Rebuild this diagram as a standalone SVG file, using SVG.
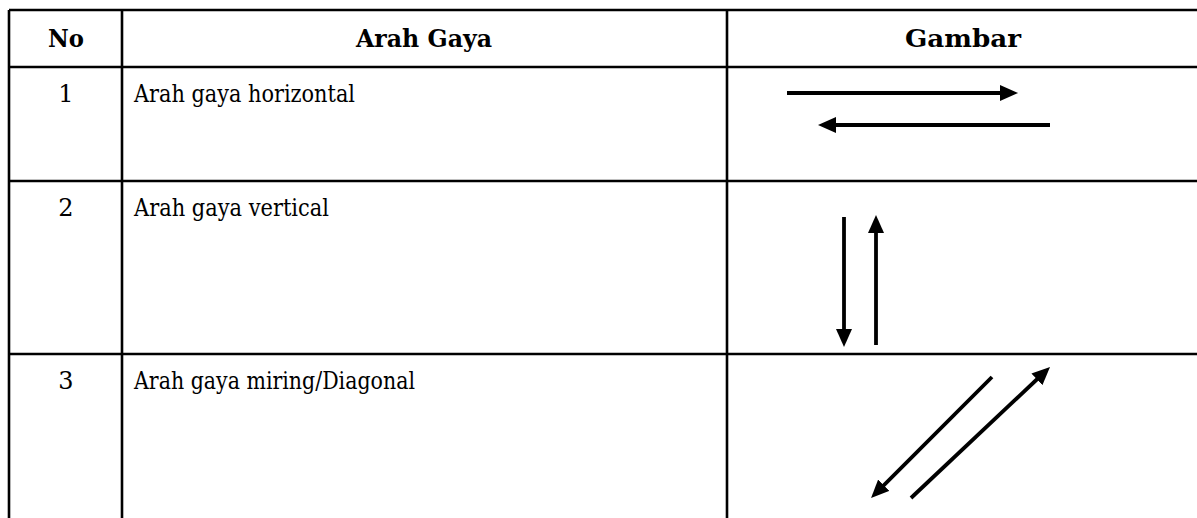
<svg xmlns="http://www.w3.org/2000/svg" width="1197" height="518" viewBox="0 0 1197 518">
<style>
.grid{stroke:#000;stroke-width:2.6;fill:none}
.h{font-family:"DejaVu Serif","Liberation Serif",serif;font-weight:bold;font-size:24px;fill:#000;text-anchor:middle}
.t{font-family:"DejaVu Serif","Liberation Serif",serif;font-size:24px;fill:#000}
.n{text-anchor:middle}
.arr{stroke:#000;stroke-width:3.8;fill:none;marker-end:url(#ah)}
</style>
<defs>
<marker id="ah" markerUnits="userSpaceOnUse" markerWidth="18" markerHeight="16" refX="10" refY="8" orient="auto">
<path d="M0,0 L18,8 L0,16 z" fill="#000"/>
</marker>
</defs>
<rect width="1197" height="518" fill="#fff"/>
<g id="table">
<path class="grid" d="M9,10 V518 M122,10 V518 M727,10 V518 M9,10 H1197 M9,67 H1197 M9,181 H1197 M9,354 H1197"/>
</g>
<g id="header">
<text class="h" x="66" y="47" textLength="36" lengthAdjust="spacingAndGlyphs">No</text>
<text class="h" x="424" y="47" textLength="136" lengthAdjust="spacingAndGlyphs">Arah Gaya</text>
<text class="h" x="963" y="47" textLength="116" lengthAdjust="spacingAndGlyphs">Gambar</text>
</g>
<g id="row1">
<text class="t n" x="66" y="102">1</text>
<text class="t" x="134" y="102" textLength="221" lengthAdjust="spacingAndGlyphs">Arah gaya horizontal</text>
</g>
<g id="row2">
<text class="t n" x="66" y="216">2</text>
<text class="t" x="134" y="216" textLength="195" lengthAdjust="spacingAndGlyphs">Arah gaya vertical</text>
</g>
<g id="row3">
<text class="t n" x="66" y="389">3</text>
<text class="t" x="134" y="389" textLength="281" lengthAdjust="spacingAndGlyphs">Arah gaya miring/Diagonal</text>
</g>
<g id="connectors">
<line class="arr" x1="787" y1="93" x2="1010" y2="93"/>
<line class="arr" x1="1050" y1="125" x2="826" y2="125"/>
<line class="arr" x1="844" y1="217" x2="844" y2="339"/>
<line class="arr" x1="876" y1="345" x2="876" y2="223"/>
<line class="arr" x1="992" y1="377" x2="876.7" y2="492.3"/>
<line class="arr" x1="911" y1="498" x2="1044.2" y2="372.5"/>
</g>
</svg>
